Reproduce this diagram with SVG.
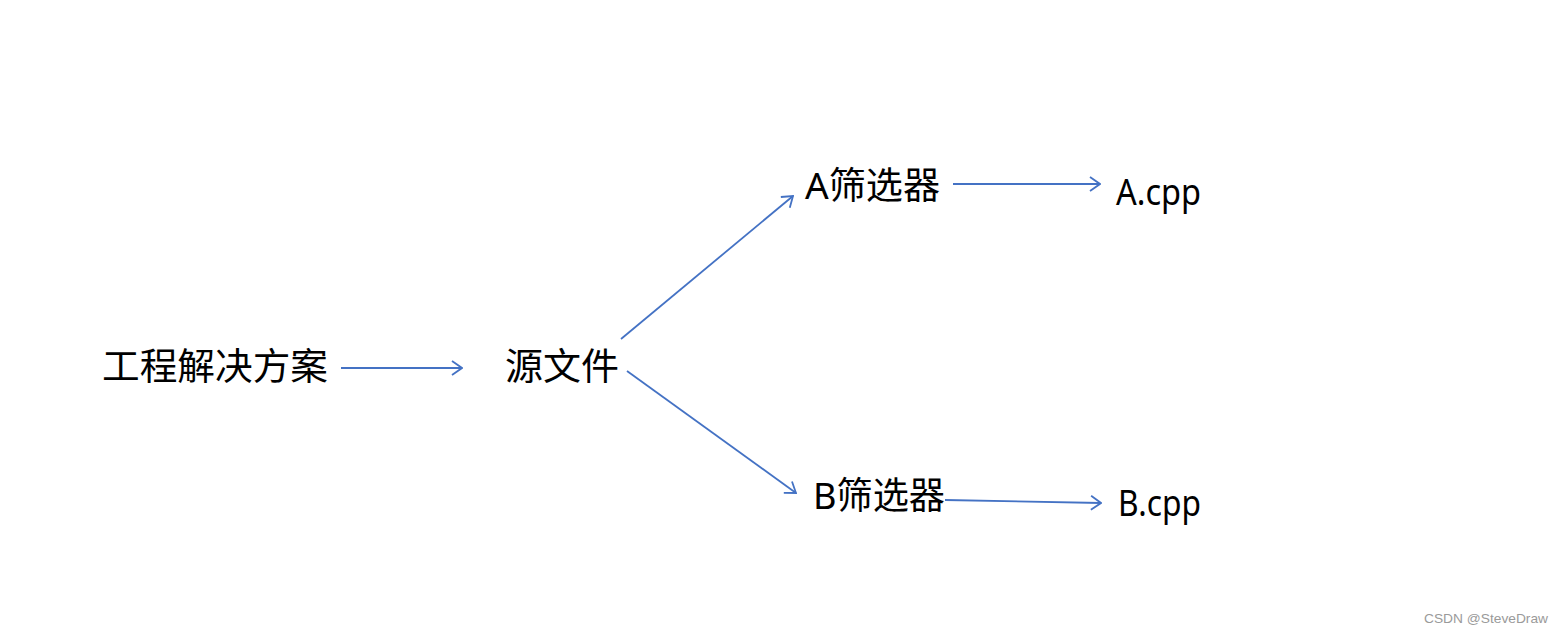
<svg xmlns="http://www.w3.org/2000/svg" width="1564" height="634" viewBox="0 0 1564 634">
<style>
.t{font-family:"Noto Sans","Noto Sans CJK SC",sans-serif;fill:#000;font-size:37px}
.c{stroke:#4472C4;stroke-width:1.8;fill:none}
.w{font-family:"Liberation Sans",Arial,sans-serif;fill:#9a9a9a;font-size:13.5px}
</style>
<defs>
<marker id="ah" viewBox="0 0 12 16" refX="11" refY="8" markerWidth="12" markerHeight="16" markerUnits="userSpaceOnUse" orient="auto">
<path d="M1,1 L11,8 L1,15" fill="none" stroke="#4472C4" stroke-width="1.8"/>
</marker>
</defs>
<rect width="1564" height="634" fill="#fff"/>
<g id="connectors">
<line class="c" x1="341" y1="368" x2="462" y2="368" marker-end="url(#ah)"/>
<line class="c" x1="621" y1="339" x2="793" y2="196" marker-end="url(#ah)"/>
<line class="c" x1="627" y1="371" x2="796" y2="493" marker-end="url(#ah)"/>
<line class="c" x1="953" y1="184" x2="1100" y2="184" marker-end="url(#ah)"/>
<line class="c" x1="945" y1="500" x2="1101" y2="503" marker-end="url(#ah)"/>
</g>
<g id="n1"><text class="t" x="102" y="380" textLength="226" lengthAdjust="spacingAndGlyphs">工程解决方案</text></g>
<g id="n2"><text class="t" x="505" y="380" textLength="114" lengthAdjust="spacingAndGlyphs">源文件</text></g>
<g id="n3"><text class="t" x="805" y="199" textLength="135" lengthAdjust="spacingAndGlyphs">A筛选器</text></g>
<g id="n4"><text class="t" x="813" y="509" textLength="132" lengthAdjust="spacingAndGlyphs">B筛选器</text></g>
<g id="n5"><text class="t" x="1116" y="205" textLength="85" lengthAdjust="spacingAndGlyphs">A.cpp</text></g>
<g id="n6"><text class="t" x="1118" y="516" textLength="83" lengthAdjust="spacingAndGlyphs">B.cpp</text></g>
<text class="w" x="1424" y="623" textLength="124" lengthAdjust="spacingAndGlyphs">CSDN @SteveDraw</text>
</svg>
